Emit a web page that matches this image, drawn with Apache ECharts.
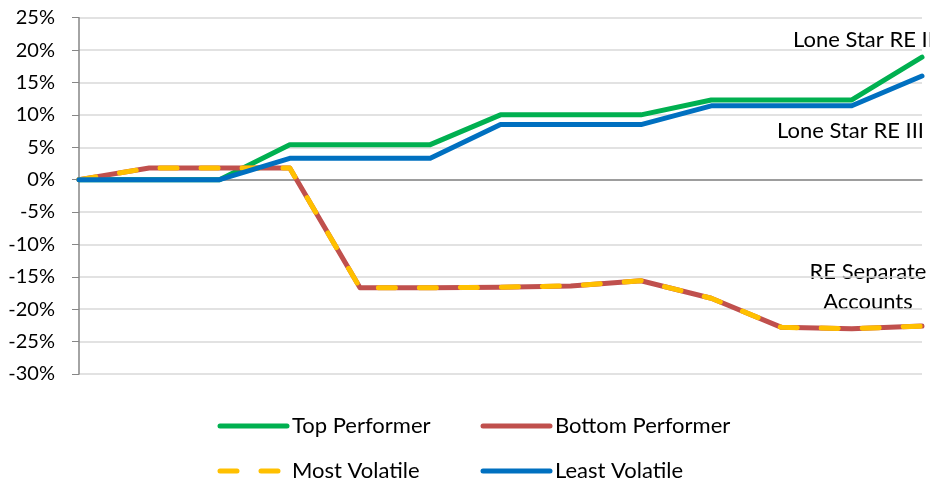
<!DOCTYPE html>
<html>
<head>
<meta charset="utf-8">
<script src="https://cdn.jsdelivr.net/npm/echarts@6/dist/echarts.min.js"></script>
<style>
html,body{margin:0;padding:0;background:#fff;}
#c{width:930px;height:481px;}
</style>
</head>
<body>
<div id="c"></div>
<script>
const categories = ['1','2','3','4','5','6','7','8','9','10','11','12','13'];
const topPerformer = [0, 0, 0, 5.4, 5.4, 5.4, 10.0, 10.0, 10.0, 12.3, 12.3, 12.3, 18.9];
const bottomPerformer = [0, 1.8, 1.8, 1.8, -16.7, -16.7, -16.6, -16.4, -15.6, -18.3, -22.8, -23.0, -22.6];
const mostVolatile = [0, 1.8, 1.8, 1.8, -16.7, -16.7, -16.6, -16.4, -15.6, -18.3, -22.8, -23.0, -22.6];
const leastVolatile = [0, 0, 0, 3.3, 3.3, 3.3, 8.5, 8.5, 8.5, 11.4, 11.4, 11.4, 16.0];
const yMin = -30, yMax = 25, yStep = 5;
const names = ['Top Performer', 'Bottom Performer', 'Most Volatile', 'Least Volatile'];
const annotations = ['Lone Star RE II', 'Lone Star RE III', 'RE Separate', 'Accounts'];

const FONT = 'Lato';
const chart = echarts.init(document.getElementById('c'), null, {renderer: 'canvas'});
function line(name, data, color, extra) {
  return {
    name: name, type: 'line', data: data, symbol: 'none', smooth: false,
    lineStyle: Object.assign({color: color, width: 5, cap: 'round', join: 'round'}, extra || {}),
    itemStyle: {color: color},
    animation: false
  };
}
const legendCommon = {
  orient: 'vertical', itemWidth: 67, itemHeight: 14, itemGap: 23, padding: 0, itemTextGap: 9.5,
  height: 90, width: 250,
  textStyle: {fontFamily: FONT, fontSize: 22, color: '#000'},
  itemStyle: {opacity: 0, color: 'rgba(0,0,0,0)', borderWidth: 0},
  lineStyle: {width: 5}
};
chart.setOption({
  animation: false,
  grid: {left: 79, right: 8, top: 17.7, bottom: 107, containLabel: false},
  xAxis: {
    type: 'category', data: categories, boundaryGap: false,
    axisLine: {onZero: true, lineStyle: {color: '#868686', width: 1.5}},
    axisTick: {show: false}, axisLabel: {show: false}, splitLine: {show: false}
  },
  yAxis: {
    type: 'value', min: yMin, max: yMax, interval: yStep,
    axisLine: {show: true, lineStyle: {color: '#868686', width: 1.5}},
    axisTick: {show: true, length: 7, inside: false, lineStyle: {color: '#868686'}},
    axisLabel: {formatter: v => v + '%', fontFamily: FONT, fontSize: 20, color: '#000', margin: 24},
    splitLine: {show: true, lineStyle: {color: '#D9D9D9', width: 1.5}}
  },
  legend: [
    Object.assign({}, legendCommon, {data: [names[0], names[2]], left: 217.5, top: 415}),
    Object.assign({}, legendCommon, {data: [names[1], names[3]], left: 480.5, top: 415})
  ],
  series: [
    line(names[0], topPerformer, '#00B050'),
    line(names[1], bottomPerformer, '#C0504D'),
    line(names[2], mostVolatile, '#FFC000', {type: [17, 24]}),
    line(names[3], leastVolatile, '#0070C0')
  ],
  graphic: [
    {type: 'text', x: 793, y: 40, style: {text: annotations[0], font: '22px ' + FONT, fill: '#000', align: 'left', verticalAlign: 'middle'}},
    {type: 'text', x: 924, y: 131, style: {text: annotations[1], font: '22px ' + FONT, fill: '#000', align: 'right', verticalAlign: 'middle'}},
    {type: 'text', x: 868, y: 272, style: {text: annotations[2], font: '22px ' + FONT, fill: '#000', align: 'center', verticalAlign: 'middle'}},
    {type: 'text', x: 868, y: 302, style: {text: annotations[3], font: '22px ' + FONT, fill: '#000', align: 'center', verticalAlign: 'middle'}}
  ]
});
</script>
</body>
</html>
